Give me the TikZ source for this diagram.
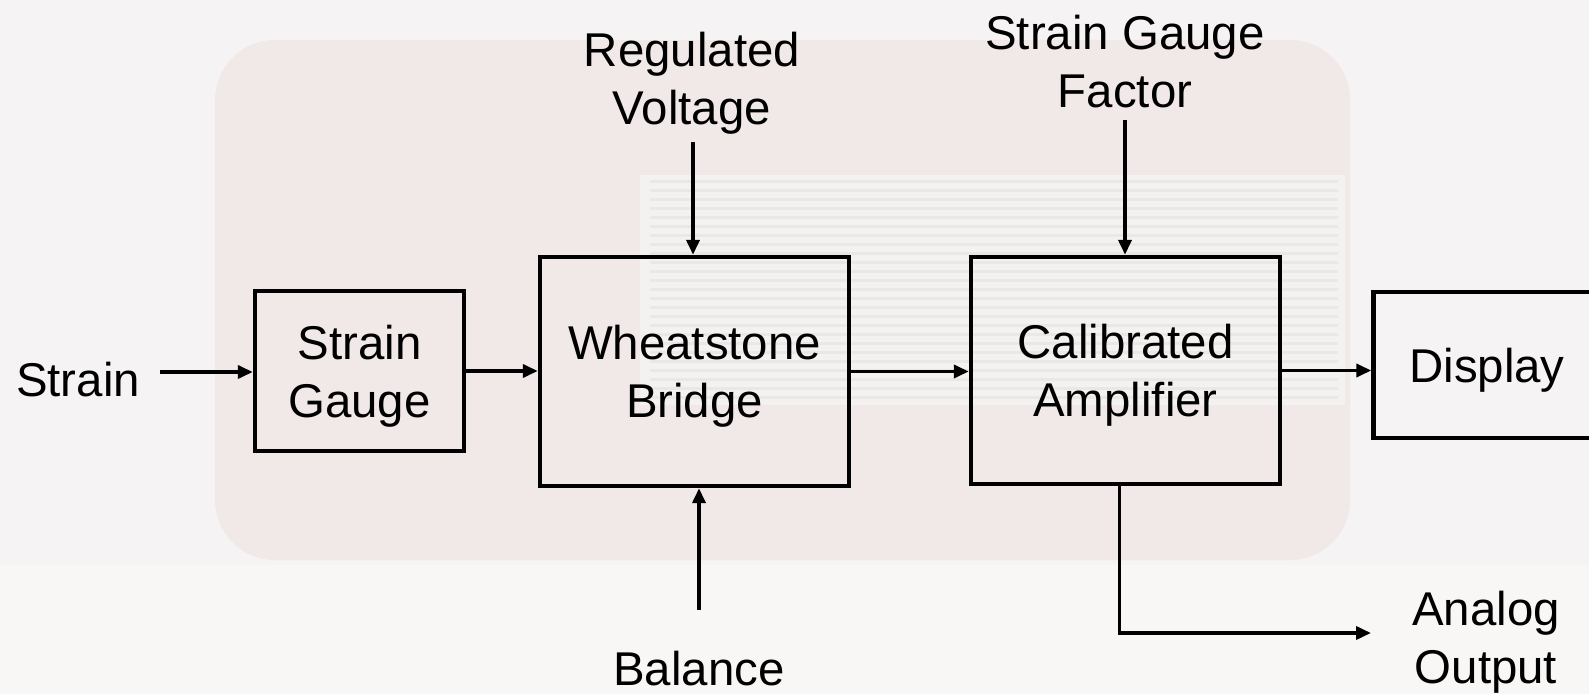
\documentclass[tikz,border=0pt]{standalone}
\usepackage{fontspec}
\setmainfont{Liberation Sans}
\usetikzlibrary{arrows.meta}
\definecolor{bgbase}{HTML}{F5F3F3}
\definecolor{bgdev}{HTML}{F1E8E8}
\definecolor{bgstripe}{HTML}{ECE7E7}
\definecolor{bgpale}{HTML}{F4F1F1}
\definecolor{bgfoot}{HTML}{F8F7F6}
\newcommand{\lblfont}{\fontsize{23.7pt}{29pt}\selectfont}
\begin{document}
\begin{tikzpicture}[x=0.5pt,y=-0.5pt,
  box/.style={draw=black, line width=2.2pt, inner sep=0pt, align=center, font=\lblfont, text depth=0pt},
  lbl/.style={inner sep=0pt, align=center, font=\lblfont},
  arr/.style={draw=black, line width=1.8pt, -{Triangle[length=7.5pt,width=6.5pt]}},
  wire/.style={draw=black, line width=1.8pt}]
\useasboundingbox (0,0) rectangle (1589,694);
% faint background photo impression
\fill[bgbase] (0,0) rectangle (1589,694);
\fill[bgdev, rounded corners=30pt] (215,40) rectangle (1350,560);
\fill[bgpale] (640,175) rectangle (1345,405);
\foreach \yy in {180,189,...,400} {\fill[bgstripe] (650,\yy) rectangle (1338,\yy+3);}
\fill[bgfoot] (0,565) rectangle (1589,694);
% blocks
\node[box, minimum width=104.5pt, minimum height=80pt] (sg) at (359.5,371) {Strain\\Gauge};
\node[box, minimum width=154.5pt, minimum height=114.5pt] (wb) at (694.5,371.5) {Wheatstone\\Bridge};
\node[box, minimum width=154.5pt, minimum height=113.5pt] (ca) at (1125.5,370.5) {Calibrated\\Amplifier};
\node[box, minimum width=113.5pt, minimum height=73pt] (dp) at (1487,365) {Display};
% labels
\node[lbl] (st) at (78,380) {Strain};
\node[lbl] (rv) at (692,83) {Regulated\\Voltage};
\node[lbl] (sgf) at (1125,62) {Strain Gauge\\Factor};
\node[lbl] (bal) at (699,669) {Balance};
\node[lbl] (ao) at (1486,642) {Analog\\Output};
% free ends
\coordinate (sIn) at (160,372);
\coordinate (rIn) at (693,142);
\coordinate (bIn) at (699,610);
\coordinate (fIn) at (1125,120);
\coordinate (aEnd) at (1371,633);
% connectors
\draw[arr] (sIn) -- (sIn -| sg.west);
\draw[arr] (sg.east) -- (sg.east -| wb.west);
\draw[arr] (rIn) -- (rIn |- wb.north);
\draw[arr] (bIn) -- (bIn |- wb.south);
\draw[arr] (wb.east) -- (wb.east -| ca.west);
\draw[arr] (fIn) -- (fIn |- ca.north);
\draw[arr] (ca.east) -- (ca.east -| dp.west);
\draw[arr] ([xshift=-3pt]ca.south) |- (aEnd);
\end{tikzpicture}
\end{document}
